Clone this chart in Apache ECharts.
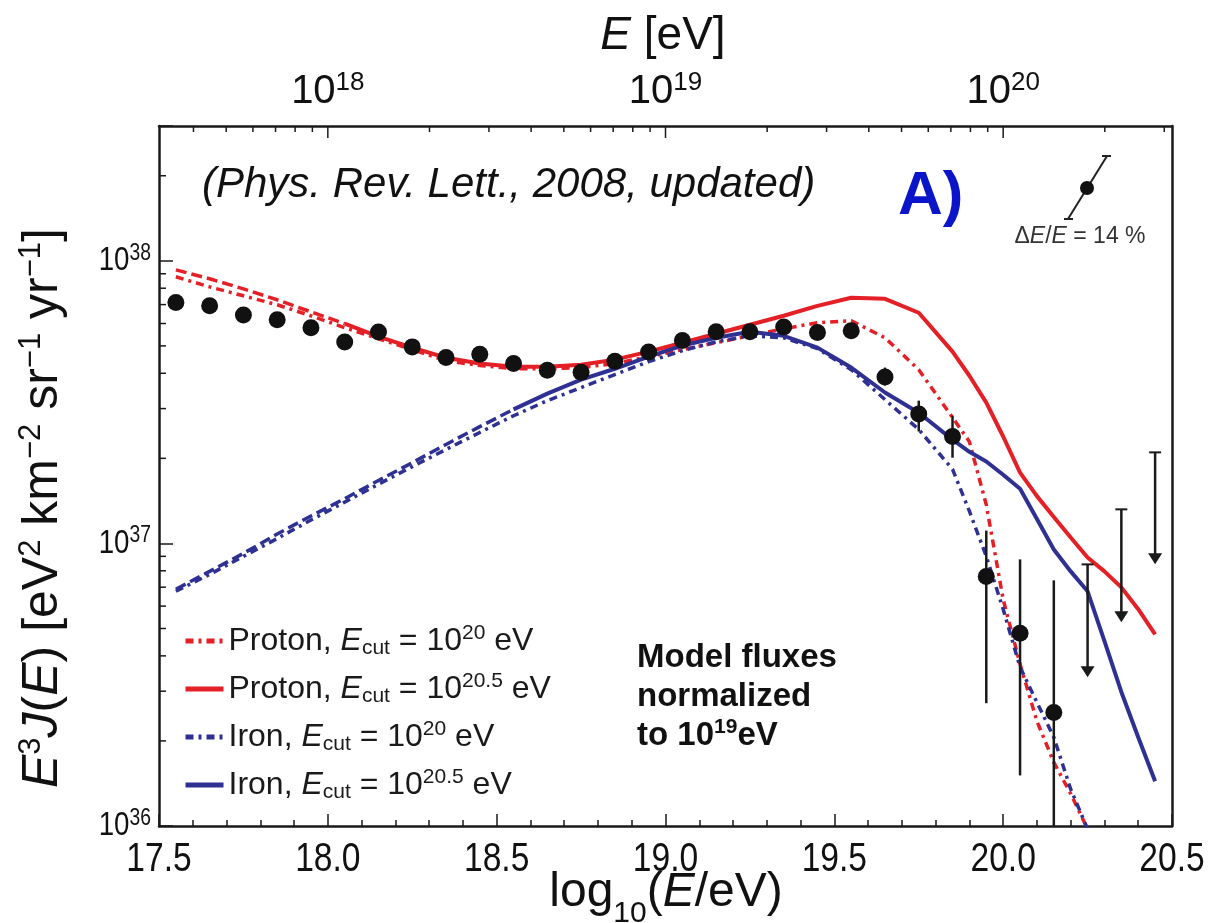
<!DOCTYPE html>
<html><head><meta charset="utf-8">
<script src="https://cdn.jsdelivr.net/npm/echarts@6/dist/echarts.min.js"></script>
<style>html,body{margin:0;padding:0;background:#fff}#c{width:1211px;height:923px}</style>
</head><body><div id="c"></div>
<script>
// ---------------- data ----------------
const logE = [17.55,17.65,17.75,17.85,17.95,18.05,18.15,18.25,18.35,18.45,18.55,18.65,18.75,18.85,18.95,
              19.05,19.15,19.25,19.35,19.45,19.55,19.65,19.75,19.85,19.95,20.05,20.15];
const flux = [7.12e37,6.93e37,6.43e37,6.19e37,5.80e37,5.16e37,5.60e37,4.96e37,4.55e37,4.67e37,4.33e37,4.10e37,4.03e37,4.41e37,4.76e37,
              5.22e37,5.61e37,5.61e37,5.83e37,5.58e37,5.66e37,3.88e37,2.87e37,2.39e37,7.63e36,4.81e36,2.52e36];
const errLow  = [null,null,null,null,null,null,null,null,null,null,null,null,null,null,null,
                 null,null,null,null,null,null,3.62e37,2.49e37,2.01e37,2.72e36,1.51e36,1.00e36];
const errHigh = [null,null,null,null,null,null,null,null,null,null,null,null,null,null,null,
                 null,null,null,null,null,null,4.19e37,3.20e37,2.83e37,1.11e37,8.78e36,7.40e36];
const limitE   = [20.25, 20.35, 20.45];
const limitTop = [8.43e36, 1.32e37, 2.10e37];
const limitTip = [3.36e36, 5.26e36, 8.43e36];

const curveE = [17.55,17.65,17.75,17.85,17.95,18.05,18.15,18.25,18.35,18.45,18.55,18.65,18.75,18.85,18.95,19.05,19.15,19.25,
                19.35,19.45,19.55,19.65,19.75,19.85,19.9,19.95,20.0,20.05,20.1,20.15,20.2,20.25,20.3,20.35,20.4,20.45];
const protonCut20 = [8.78e37,8.09e37,7.52e37,6.99e37,6.39e37,5.80e37,5.30e37,4.85e37,4.43e37,4.26e37,4.15e37,4.15e37,4.19e37,4.33e37,4.58e37,4.85e37,5.13e37,5.43e37,
                     5.75e37,6.04e37,6.14e37,5.34e37,4.12e37,2.79e37,2.29e37,1.37e37,6.34e36,3.74e36,2.35e36,1.68e36,1.30e36,9.76e35,null,null,null,null];
const protonCut205Low = [9.29e37,8.64e37,7.96e37,7.28e37,6.60e37,5.99e37,null,null,null,null,null,null,null,null,null,null,null,null,
                     null,null,null,null,null,null,null,null,null,null,null,null,null,null,null,null,null,null];
const protonCut205 = [null,null,null,null,null,5.99e37,5.39e37,4.93e37,4.54e37,4.33e37,4.22e37,4.22e37,4.29e37,4.47e37,4.77e37,5.13e37,5.52e37,5.94e37,
                     6.39e37,6.93e37,7.40e37,7.34e37,6.55e37,4.77e37,3.92e37,3.15e37,2.39e37,1.78e37,1.47e37,1.24e37,1.05e37,8.92e36,7.96e36,6.99e36,5.85e36,4.77e36];
const ironCut20 = [6.77e36,7.77e36,9.00e36,1.04e37,1.21e37,1.40e37,1.62e37,1.87e37,2.15e37,2.47e37,2.83e37,3.20e37,3.56e37,3.96e37,4.40e37,4.81e37,5.17e37,5.43e37,
                   5.34e37,4.89e37,4.12e37,3.23e37,2.53e37,1.83e37,1.30e37,9.00e36,5.85e36,3.65e36,2.74e36,2.06e36,1.35e36,9.76e35,null,null,null,null];
const ironCut205Low = [6.88e36,7.96e36,9.22e36,1.08e37,1.25e37,1.44e37,1.67e37,1.93e37,2.24e37,2.59e37,2.98e37,null,null,null,null,null,null,null,
                   null,null,null,null,null,null,null,null,null,null,null,null,null,null,null,null,null,null];
const ironCut205 = [null,null,null,null,null,null,null,null,null,null,2.98e37,3.39e37,3.80e37,4.15e37,4.58e37,5.01e37,5.34e37,5.61e37,
                   5.43e37,4.93e37,4.19e37,3.42e37,2.90e37,2.33e37,2.11e37,1.95e37,1.75e37,1.56e37,1.22e37,9.52e36,7.96e36,6.77e36,4.51e36,2.98e36,2.06e36,1.44e36];

// axis tick values and labels
const yMajorExponents = [36, 37, 38];
const yMinorTicks = [2e36,3e36,4e36,5e36,6e36,7e36,8e36,9e36,2e37,3e37,4e37,5e37,6e37,7e37,8e37,9e37,2e38];
const topTicksEV = [4e17,5e17,6e17,7e17,8e17,9e17,1e18,2e18,3e18,4e18,5e18,6e18,7e18,8e18,9e18,1e19,
                    2e19,3e19,4e19,5e19,6e19,7e19,8e19,9e19,1e20,2e20,3e20];
const topLabelExponents = [18, 19, 20];
const xLabels = ['17.5','18.0','18.5','19.0','19.5','20.0','20.5'];

// ---------------- chart ----------------
const RED = '#e41f26', BLUE = '#2e3192', INK = '#1a1a1a';
const SANS = '"Liberation Sans", Arial, Helvetica, sans-serif';
const YMIN = 1e36, YMAX = 3e38;

function pairs(ys) { const o = []; for (let i = 0; i < curveE.length; i++) if (ys[i] != null) o.push([curveE[i], ys[i]]); return o; }
const DOT = [8, 5, 3, 5];
const DASH = [11, 5];

const LFS = 32;
const legendRich = {
  it: {fontFamily: SANS, fontSize: LFS, fontStyle: 'italic', color: INK, lineHeight: 36},
  sub: {fontFamily: SANS, fontSize: 21, color: INK, lineHeight: 20, verticalAlign: 'bottom'},
  sup: {fontFamily: SANS, fontSize: 21, color: INK, lineHeight: 20, verticalAlign: 'top'},
  n: {fontFamily: SANS, fontSize: LFS, color: INK, lineHeight: 36}
};
const legendText = {
  p20: '{n|Proton, }{it|E}{sub|cut}{n| = 10}{sup|20}{n| eV}',
  p205: '{n|Proton, }{it|E}{sub|cut}{n| = 10}{sup|20.5}{n| eV}',
  fe20: '{n|Iron, }{it|E}{sub|cut}{n| = 10}{sup|20}{n| eV}',
  fe205: '{n|Iron, }{it|E}{sub|cut}{n| = 10}{sup|20.5}{n| eV}'
};

const isPow = v => { const e = Math.log10(v); return Math.abs(e - Math.round(e)) < 1e-6; };

const tickData = [];
yMinorTicks.forEach(v => tickData.push([17.5, v, 0, 0]));
topTicksEV.forEach(v => tickData.push([Math.log10(v), YMAX, 1, isPow(v) ? 1 : 0]));

const axisLineStyle = {show: true, onZero: false, lineStyle: {color: INK, width: 2.5}};

const option = {
  backgroundColor: '#fff',
  animation: false,
  grid: {left: 159, top: 126, width: 1013, height: 700, containLabel: false, outerBoundsMode: 'none'},
  xAxis: [
    {type: 'value', position: 'bottom', min: 17.5, max: 20.5, interval: 0.5,
     axisLine: axisLineStyle,
     axisTick: {show: true, inside: true, length: 12, lineStyle: {color: INK, width: 1.5}},
     minorTick: {show: true, splitNumber: 5, length: 6, lineStyle: {color: INK, width: 1.5}},
     splitLine: {show: false}, minorSplitLine: {show: false},
     axisLabel: {show: false}},
    {type: 'value', position: 'top', min: 17.5, max: 20.5, interval: 0.5,
     axisLine: axisLineStyle, axisTick: {show: false}, splitLine: {show: false},
     axisLabel: {margin: 12, showMinLabel: true, showMaxLabel: true,
       formatter: v => { const r = Math.round(v); return (Math.abs(v - r) < 1e-6 && topLabelExponents.includes(r)) ? '{b|10}{s|' + r + '}' : ''; },
       rich: {b: {fontFamily: SANS, fontSize: 40, color: '#111', lineHeight: 44},
              s: {fontFamily: SANS, fontSize: 26, color: '#111', lineHeight: 26, verticalAlign: 'top'}}}}
  ],
  yAxis: [
    {type: 'log', logBase: 10, min: YMIN, max: YMAX, position: 'left',
     axisLine: axisLineStyle,
     axisTick: {show: true, inside: true, length: 14, lineStyle: {color: INK, width: 1.5}},
     splitLine: {show: false}, axisLabel: {show: false}},
    {type: 'log', logBase: 10, min: YMIN, max: YMAX, position: 'right',
     axisLine: axisLineStyle, axisTick: {show: false}, axisLabel: {show: false}, splitLine: {show: false}}
  ],
  legend: {
    data: ['p20', 'p205', 'fe20', 'fe205'], orient: 'vertical', left: 178, top: 618,
    itemWidth: 38, itemHeight: 14, itemGap: 12, selectedMode: false,
    itemStyle: {color: 'rgba(0,0,0,0)', borderColor: 'rgba(0,0,0,0)', borderWidth: 0},
    lineStyle: {width: 5},
    formatter: n => legendText[n],
    textStyle: {color: INK, fontFamily: SANS, fontSize: LFS, rich: legendRich}
  },
  graphic: [
    {type: 'text', x: 663, y: 36, style: {text: '{it|E} [eV]', textAlign: 'center', textVerticalAlign: 'middle',
      rich: {it: {fontFamily: SANS, fontSize: 46, fontStyle: 'italic', fill: '#111'}}, fontFamily: SANS, fontSize: 46, fill: '#111'}},
    {type: 'text', x: 666, y: 893, style: {text: 'log{sub|10}({it|E}/eV)', textAlign: 'center', textVerticalAlign: 'middle',
      fontFamily: SANS, fontSize: 48, fill: '#111',
      rich: {it: {fontFamily: SANS, fontSize: 48, fontStyle: 'italic', fill: '#111'},
             sub: {fontFamily: SANS, fontSize: 30, fill: '#111', lineHeight: 30, verticalAlign: 'bottom', padding: [0, 0, -12, 0]}}}},
    {type: 'text', x: 43, y: 508, rotation: Math.PI / 2, style: {
      text: '{it|E}{sup|3}{it|J}({it|E}) [eV{sup|2} km{sup|−2} sr{sup|−1} yr{sup|−1}]', textAlign: 'center', textVerticalAlign: 'middle',
      fontFamily: SANS, fontSize: 50, fill: '#111',
      rich: {it: {fontFamily: SANS, fontSize: 50, fontStyle: 'italic', fill: '#111', lineHeight: 54},
             sup: {fontFamily: SANS, fontSize: 31, fill: '#111', lineHeight: 28, verticalAlign: 'top'}}}},
    {type: 'text', x: 202, y: 185, style: {text: '(Phys. Rev. Lett., 2008, updated)', textAlign: 'left', textVerticalAlign: 'middle',
      fontFamily: SANS, fontSize: 42, fontStyle: 'italic', fill: '#111'}},
    {type: 'text', x: 898, y: 197, style: {text: 'A)', textAlign: 'left', textVerticalAlign: 'middle',
      fontFamily: SANS, fontSize: 62, fontWeight: 'bold', fill: '#0a14c8'}},
    {type: 'text', x: 637, y: 697, style: {text: 'Model fluxes\nnormalized\nto 10{sup|19}eV', textAlign: 'left', textVerticalAlign: 'middle',
      fontFamily: SANS, fontSize: 33, fontWeight: 'bold', fill: '#111', lineHeight: 39,
      rich: {sup: {fontFamily: SANS, fontSize: 21, fontWeight: 'bold', fill: '#111', lineHeight: 21, verticalAlign: 'top'}}}},
    // resolution inset
    {type: 'line', shape: {x1: 1068, y1: 219, x2: 1107, y2: 156}, style: {stroke: '#222', lineWidth: 2}},
    {type: 'line', shape: {x1: 1064, y1: 219, x2: 1073, y2: 219}, style: {stroke: '#222', lineWidth: 2}},
    {type: 'line', shape: {x1: 1102, y1: 156, x2: 1111, y2: 156}, style: {stroke: '#222', lineWidth: 2}},
    {type: 'circle', shape: {cx: 1087, cy: 188, r: 7}, style: {fill: '#111'}},
    {type: 'text', x: 1080, y: 237, style: {text: 'Δ{it|E}/{it|E} = 14 %', textAlign: 'center', textVerticalAlign: 'middle',
      fontFamily: SANS, fontSize: 23, fill: '#333',
      rich: {it: {fontFamily: SANS, fontSize: 23, fontStyle: 'italic', fill: '#333'}}}}
  ],
  series: [
    {type: 'custom', name: 'ticks', silent: true, clip: false, z: 5, data: tickData,
     encode: {x: 0, y: 1},
     renderItem: (p, api) => {
       const c = api.coord([api.value(0), api.value(1)]);
       const side = api.value(2), major = api.value(3);
       const shape = side === 0 ? {x1: c[0], y1: c[1], x2: c[0] + 7, y2: c[1]}
                                : {x1: c[0], y1: c[1], x2: c[0], y2: c[1] + (major ? 12 : 6)};
       return {type: 'line', shape, style: {stroke: INK, lineWidth: 1.5}};
     }},
    {type: 'custom', name: 'xTickLabels', silent: true, clip: false, z: 5,
     data: xLabels.map(s => [parseFloat(s), YMIN]), encode: {x: 0, y: 1},
     renderItem: (p, api) => {
       const c = api.coord([api.value(0), api.value(1)]);
       return {type: 'text', x: c[0], y: c[1] + 14, scaleX: 0.84,
               style: {text: xLabels[p.dataIndex], textAlign: 'center', textVerticalAlign: 'top', fontFamily: SANS, fontSize: 40, fill: '#111'}};
     }},
    {type: 'custom', name: 'yTickLabels', silent: true, clip: false, z: 5,
     data: yMajorExponents.map(e => [17.5, Math.pow(10, e)]), encode: {x: 0, y: 1},
     renderItem: (p, api) => {
       const c = api.coord([api.value(0), api.value(1)]);
       return {type: 'text', x: c[0] - 8, y: c[1], scaleX: 0.84,
               style: {text: '{b|10}{s|' + yMajorExponents[p.dataIndex] + '}', textAlign: 'right', textVerticalAlign: 'middle',
                       rich: {b: {fontFamily: SANS, fontSize: 33, fill: '#111', lineHeight: 38},
                              s: {fontFamily: SANS, fontSize: 23, fill: '#111', lineHeight: 22, verticalAlign: 'top'}}}};
     }},
    {type: 'line', name: 'p205x', data: pairs(protonCut205Low), symbol: 'none', z: 2,
     lineStyle: {color: RED, width: 3.5, type: DASH}},
    {type: 'line', name: 'fe205x', data: pairs(ironCut205Low), symbol: 'none', z: 2,
     lineStyle: {color: BLUE, width: 3.5, type: DASH}},
    {type: 'line', name: 'p20', data: pairs(protonCut20), symbol: 'none', z: 2, itemStyle: {color: RED},
     lineStyle: {color: RED, width: 3.5, type: DOT}},
    {type: 'line', name: 'p205', data: pairs(protonCut205), symbol: 'none', z: 2, itemStyle: {color: RED},
     lineStyle: {color: RED, width: 4}},
    {type: 'line', name: 'fe20', data: pairs(ironCut20), symbol: 'none', z: 2, itemStyle: {color: BLUE},
     lineStyle: {color: BLUE, width: 3.5, type: DOT}},
    {type: 'line', name: 'fe205', data: pairs(ironCut205), symbol: 'none', z: 2, itemStyle: {color: BLUE},
     lineStyle: {color: BLUE, width: 4}},
    {type: 'custom', name: 'errors', silent: true, z: 3, clip: true,
     data: logE.map((e, i) => [e, errLow[i], errHigh[i]]).filter(d => d[1] != null),
     encode: {x: 0, y: [1, 2]},
     renderItem: (p, api) => {
       const a = api.coord([api.value(0), api.value(1)]), b = api.coord([api.value(0), api.value(2)]);
       return {type: 'line', shape: {x1: a[0], y1: a[1], x2: b[0], y2: b[1]}, style: {stroke: INK, lineWidth: 2.5}};
     }},
    {type: 'custom', name: 'limits', silent: true, z: 3,
     data: limitE.map((e, i) => [e, limitTop[i], limitTip[i]]),
     encode: {x: 0, y: [1, 2]},
     renderItem: (p, api) => {
       const a = api.coord([api.value(0), api.value(1)]), b = api.coord([api.value(0), api.value(2)]);
       return {type: 'group', children: [
         {type: 'line', shape: {x1: a[0], y1: a[1], x2: b[0], y2: b[1] - 8}, style: {stroke: INK, lineWidth: 2.5}},
         {type: 'line', shape: {x1: a[0] - 6, y1: a[1], x2: a[0] + 6, y2: a[1]}, style: {stroke: INK, lineWidth: 2}},
         {type: 'polygon', shape: {points: [[b[0] - 7, b[1] - 11], [b[0] + 7, b[1] - 11], [b[0], b[1]]]}, style: {fill: INK}}
       ]};
     }},
    {type: 'scatter', name: 'data', data: logE.map((e, i) => [e, flux[i]]), symbol: 'circle', symbolSize: 17, z: 4,
     itemStyle: {color: '#111', opacity: 1}}
  ]
};
const chart = echarts.init(document.getElementById('c'));
chart.setOption(option);
</script></body></html>
